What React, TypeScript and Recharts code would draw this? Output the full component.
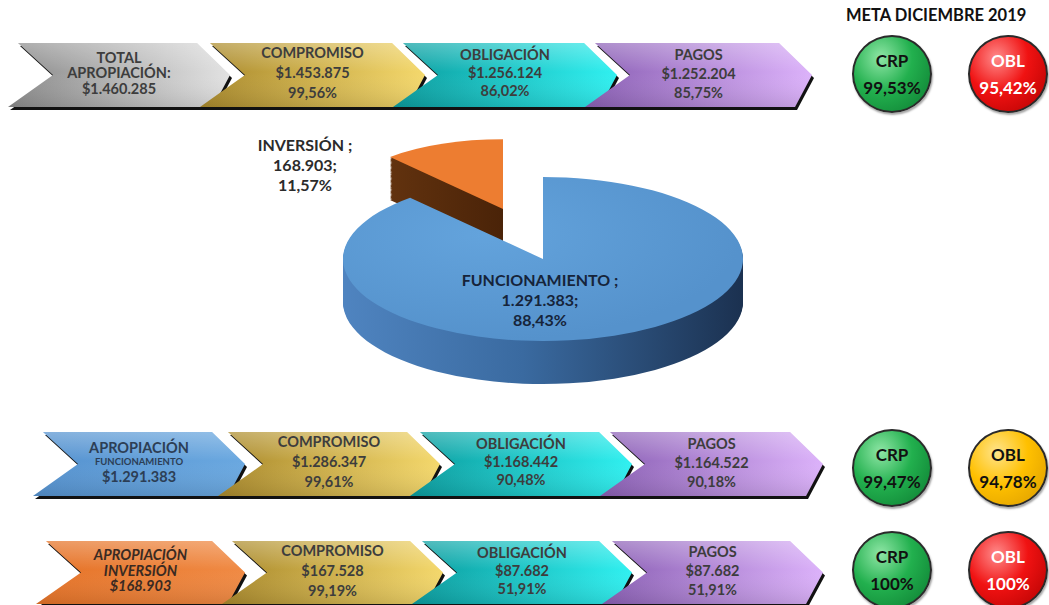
import { Cell, Pie, PieChart } from "recharts";

// ---- data ----
const pieNames = ["FUNCIONAMIENTO", "INVERSIÓN"];
const pieValues = [1291383, 168903];

const totalApropiacion = 1460285;
const stageNames = ["COMPROMISO", "OBLIGACIÓN", "PAGOS"];
const totalStages = [1453875, 1256124, 1252204];
const funcStages = [1286347, 1168442, 1164522];
const invStages = [167528, 87682, 87682];

const metaTitle = "META DICIEMBRE 2019";
const metaNames = ["CRP", "OBL"];
const metaTotal = [99.53, 95.42];
const metaFunc = [99.47, 94.78];
const metaInv = [100, 100];

// ---- formatting ----
const fmtNum = (n: number) => String(n).replace(/\B(?=(\d{3})+(?!\d))/g, ".");
const fmtPct = (v: number) => (Number.isInteger(v) ? `${v}%` : `${v.toFixed(2).replace(".", ",")}%`);
const share = (part: number, whole: number) => fmtPct(Math.round((part / whole) * 10000) / 100);

// ---- styles ----
const FONT = "Lato, 'Open Sans', sans-serif";
const TEXT = "#3d3d3d";
const GRAD: Record<string, [string, string]> = {
  gray: ["#8a8a8a", "#e2e2e2"],
  gold: ["#a9892c", "#f4d86c"],
  cyan: ["#0b9c9e", "#30f0f0"],
  purple: ["#8a5fb4", "#dcb2fa"],
  blue: ["#5592cf", "#6aa8e0"],
  orange: ["#e57328", "#f08a44"],
};
const STAGE_KINDS = ["gold", "cyan", "purple"];
const LINE_H = [15.5, 20, 18, 19];
const GREEN = "#22b04e";
const RED = "#f01212";
const YELLOW = "#ffc000";
const META_COLORS = [
  [GREEN, RED],
  [GREEN, YELLOW],
  [GREEN, RED],
];
const META_LIGHT: Record<string, string> = { [GREEN]: "#8fe6a6", [RED]: "#ff8a8a", [YELLOW]: "#ffe48a" };
const META_DARK: Record<string, string> = { [GREEN]: "#0c7a30", [RED]: "#b00000", [YELLOW]: "#d99a00" };

type Line = { text: string; size?: number };

function Chevron({ id, x, y, w, h, kind, lines, lh, italic, color }: {
  id: string; x: number; y: number; w: number; h: number; kind: string; lines: Line[]; lh: number; italic?: boolean; color?: string;
}) {
  const [c0, c1] = GRAD[kind];
  const pts = `10,0 ${w - 33},0 ${w},${h / 2} ${w - 17},${h} 0,${h} 45,${h / 2}`;
  return (
    <div style={{ position: "absolute", left: x, top: y, width: w, height: h }}>
      <svg width={w + 4} height={h + 4} style={{ position: "absolute", left: 0, top: 0, overflow: "visible" }}>
        <defs>
          <linearGradient id={`g-${id}`} x1="0" y1="0" x2="1" y2="0">
            <stop offset="0%" stopColor={c0} />
            <stop offset="100%" stopColor={c1} />
          </linearGradient>
          <linearGradient id={`s-${id}`} x1="0" y1="0" x2="0" y2="1">
            <stop offset="0%" stopColor="#fff" stopOpacity={0.28} />
            <stop offset="45%" stopColor="#fff" stopOpacity={0} />
            <stop offset="100%" stopColor="#000" stopOpacity={0.1} />
          </linearGradient>
        </defs>
        <polygon points={pts} fill="#111" transform="translate(2,3)" />
        <polygon points={pts} fill={`url(#g-${id})`} />
        <polygon points={pts} fill={`url(#s-${id})`} />
      </svg>
      <div
        style={{
          position: "absolute", left: 0, top: -2, width: w, height: h,
          display: "flex", flexDirection: "column", alignItems: "center", justifyContent: "center",
          fontFamily: FONT, fontWeight: 700, color: color ?? TEXT, fontStyle: italic ? "italic" : "normal",
        }}
      >
        {lines.map((l, i) => (
          <div key={i} style={{ fontSize: l.size ?? 14.5, lineHeight: `${l.size ? l.size + 4 : lh}px`, whiteSpace: "nowrap" }}>
            {l.text}
          </div>
        ))}
      </div>
    </div>
  );
}

function Meta({ cx, cy, name, value, color }: { cx: number; cy: number; name: string; value: number; color: string }) {
  const w = 80, h = 78;
  return (
    <div
      style={{
        position: "absolute", left: cx - w / 2, top: cy - h / 2, width: w, height: h, borderRadius: "50%",
        background: `radial-gradient(ellipse at 35% 28%, ${META_LIGHT[color]} 0%, ${color} 45%, ${META_DARK[color]} 100%)`,
        border: "2px solid #2a2a2a", boxSizing: "border-box", boxShadow: "1px 2px 2px rgba(0,0,0,0.35)",
        display: "flex", flexDirection: "column", alignItems: "center", justifyContent: "center",
        fontFamily: FONT, fontWeight: 700, fontSize: 17, color: color === RED ? "#fff" : "#111",
      }}
    >
      <div style={{ lineHeight: "27px" }}>{name}</div>
      <div style={{ lineHeight: "27px" }}>{fmtPct(value)}</div>
    </div>
  );
}

// ---- pie geometry (unscaled svg units; squashed vertically) ----
const SQUASH = 0.41;
const PIE_W = 1049;
const PIE_H = 660;
const CX = 543;
const CY = 300;
const R = 200;
const R_EXPLODED = 170;
const DEPTH = 105;
const STEP = 3;
const EXPLODE_X = -40;
const EXPLODE_Y = -122;
const PIE_TOP = 259 - CY * SQUASH;

const pieData = pieNames.map((name, i) => ({ name, value: pieValues[i] }));
const pieSum = pieValues.reduce((a, b) => a + b, 0);
const depthSteps: number[] = [];
for (let d = DEPTH; d > 0; d -= STEP) depthSteps.push(d);

function PieLayer(key: string, cx: number, cy: number, r: number, only: string, fill: string) {
  return (
    <Pie
      key={key}
      data={pieData}
      dataKey="value"
      nameKey="name"
      cx={cx}
      cy={cy}
      outerRadius={r}
      startAngle={90}
      endAngle={-270}
      stroke="none"
      isAnimationActive={false}
    >
      {pieData.map((e) => (
        <Cell key={e.name} fill={e.name === only ? fill : "none"} />
      ))}
    </Pie>
  );
}

export default function App() {
  const rows = [
    {
      y: 43, h: 64, first: { x: 8, w: 222, kind: "gray", italic: false, color: TEXT, lines: [{ text: "TOTAL" }, { text: "APROPIACIÓN:" }, { text: `$${fmtNum(totalApropiacion)}` }] },
      base: totalApropiacion, stages: totalStages, xs: [200, 393, 585], ws: [225, 224, 227], meta: metaTotal, metaY: 74,
    },
    {
      y: 432, h: 64, first: { x: 33, w: 212, kind: "blue", italic: false, color: "#2c3e55", lines: [{ text: "APROPIACIÓN" }, { text: "FUNCIONAMIENTO", size: 9.5 }, { text: `$${fmtNum(pieValues[0])}` }] },
      base: pieValues[0], stages: funcStages, xs: [218, 410, 600], ws: [222, 222, 223], meta: metaFunc, metaY: 468,
    },
    {
      y: 541, h: 63, first: { x: 36, w: 209, kind: "orange", italic: true, color: "#3a2a22", lines: [{ text: "APROPIACIÓN" }, { text: "INVERSIÓN" }, { text: `$${fmtNum(pieValues[1])}` }] },
      base: pieValues[1], stages: invStages, xs: [222, 412, 602], ws: [221, 220, 221], meta: metaInv, metaY: 570,
    },
  ];

  return (
    <div style={{ position: "absolute", left: 0, top: 0, width: 1049, height: 605, background: "#fff", overflow: "hidden", fontFamily: FONT }}>
      {/* pie, drawn as a squashed stack of layers for depth */}
      <div style={{ position: "absolute", left: 0, top: PIE_TOP, width: PIE_W, height: PIE_H, transform: `scaleY(${SQUASH})`, transformOrigin: "0 0" }}>
        <PieChart width={PIE_W} height={PIE_H} margin={{ top: 0, right: 0, bottom: 0, left: 0 }}>
          <defs>
            <linearGradient id="blueSide" gradientUnits="userSpaceOnUse" x1={CX - R} y1="0" x2={CX + R} y2="0">
              <stop offset="0%" stopColor="#4f84c0" />
              <stop offset="45%" stopColor="#3a6aa0" />
              <stop offset="100%" stopColor="#1b3150" />
            </linearGradient>
            <linearGradient id="brownSide" gradientUnits="userSpaceOnUse" x1={CX + EXPLODE_X - R_EXPLODED} y1="0" x2={CX + EXPLODE_X} y2="0">
              <stop offset="0%" stopColor="#6e3a12" />
              <stop offset="100%" stopColor="#4a2308" />
            </linearGradient>
            <radialGradient id="blueTop" gradientUnits="userSpaceOnUse" cx={CX - 60} cy={CY - 60} r={R * 1.3}>
              <stop offset="0%" stopColor="#63a3dc" />
              <stop offset="100%" stopColor="#5592cc" />
            </radialGradient>
          </defs>
          {depthSteps.map((d) => PieLayer(`o${d}`, CX + EXPLODE_X, CY + EXPLODE_Y + d, R_EXPLODED, pieNames[1], "url(#brownSide)"))}
          {PieLayer("otop", CX + EXPLODE_X, CY + EXPLODE_Y, R_EXPLODED, pieNames[1], "#ed7d31")}
          {depthSteps.map((d) => PieLayer(`b${d}`, CX, CY + d, R, pieNames[0], "url(#blueSide)"))}
          {PieLayer("btop", CX, CY, R, pieNames[0], "url(#blueTop)")}
        </PieChart>
      </div>

      {/* pie labels */}
      <div style={{ position: "absolute", left: 205, top: 135, width: 200, textAlign: "center", fontWeight: 700, fontSize: 16, lineHeight: "20px", color: "#2b2b2b" }}>
        <div>{pieNames[1]} ;</div>
        <div>{fmtNum(pieValues[1])};</div>
        <div>{share(pieValues[1], pieSum)}</div>
      </div>
      <div style={{ position: "absolute", left: 440, top: 270, width: 200, textAlign: "center", fontWeight: 700, fontSize: 16, lineHeight: "20px", color: "#16243a" }}>
        <div>{pieNames[0]} ;</div>
        <div>{fmtNum(pieValues[0])};</div>
        <div>{share(pieValues[0], pieSum)}</div>
      </div>

      {/* chevron rows */}
      {rows.map((r, ri) => (
        <div key={ri}>
          <Chevron id={`r${ri}c0`} x={r.first.x} y={r.y} w={r.first.w} h={r.h} kind={r.first.kind} lines={r.first.lines} lh={LINE_H[0]} italic={r.first.italic} color={r.first.color} />
          {stageNames.map((s, si) => (
            <Chevron
              key={s}
              id={`r${ri}c${si + 1}`}
              x={r.xs[si]}
              y={r.y}
              w={r.ws[si]}
              h={r.h}
              kind={STAGE_KINDS[si]}
              lh={LINE_H[si + 1]}
              lines={[{ text: s }, { text: `$${fmtNum(r.stages[si])}` }, { text: share(r.stages[si], r.base) }]}
            />
          ))}
          {metaNames.map((m, mi) => (
            <Meta key={m} cx={mi === 0 ? 892 : 1008} cy={r.metaY} name={m} value={r.meta[mi]} color={META_COLORS[ri][mi]} />
          ))}
        </div>
      ))}

      <div style={{ position: "absolute", left: 846, top: 5, fontWeight: 700, fontSize: 16.5, color: "#111", whiteSpace: "nowrap" }}>{metaTitle}</div>
    </div>
  );
}
